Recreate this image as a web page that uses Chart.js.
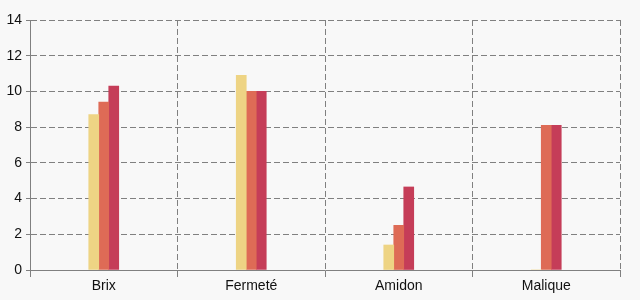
<!DOCTYPE html>
<html>
<head>
<meta charset="utf-8">
<script src="https://cdn.jsdelivr.net/npm/chart.js@4"></script>
<style>
  html, body { margin: 0; padding: 0; background: #f8f8f8; }
  #wrap { width: 640px; height: 300px; }
</style>
</head>
<body>
<div id="wrap"><canvas id="chart" width="640" height="300"></canvas></div>
<script>
const categories = ["Brix", "Fermeté", "Amidon", "Malique"];
const serieA = [8.7, 10.9, 1.4, 0];
const serieB = [9.4, 10.0, 2.5, 8.1];
const serieC = [10.3, 10.0, 4.65, 8.1];
const yTicks = [0, 2, 4, 6, 8, 10, 12, 14];

const gridColor = "#808080";
const font = { family: "Liberation Sans, Arial, sans-serif", size: 14 };

const ctx = document.getElementById("chart").getContext("2d");
new Chart(ctx, {
  type: "bar",
  data: {
    labels: categories,
    datasets: [
      { data: serieA, backgroundColor: "#eed484", barThickness: 10 },
      { data: serieB, backgroundColor: "#de6b56", barThickness: 10 },
      { data: serieC, backgroundColor: "#c53d58", barThickness: 10 },
    ],
  },
  options: {
    responsive: false,
    animation: false,
    layout: { padding: { top: 20, right: 20, left: 0, bottom: 0 } },
    plugins: { legend: { display: false }, tooltip: { enabled: false } },
    scales: {
      x: {
        offset: true,
        grid: {
          offset: true,
          color: gridColor,
          tickLength: 7,
          tickBorderDash: [],
          tickColor: gridColor,
        },
        border: { display: true, color: gridColor, width: 1, dash: [6, 3] },
        ticks: { color: "#111", font: font, padding: 1 },
        afterFit: (s) => { s.height = 30; },
      },
      y: {
        min: 0,
        max: 14,
        afterBuildTicks: (s) => { s.ticks = yTicks.map((v) => ({ value: v })); },
        grid: {
          color: gridColor,
          tickLength: 4,
          tickBorderDash: [],
          tickColor: gridColor,
        },
        border: { display: true, color: gridColor, width: 1, dash: [6, 3] },
        ticks: { color: "#111", font: font, padding: 4 },
        afterFit: (s) => { s.width = 30; },
      },
    },
  },
});
</script>
</body>
</html>
